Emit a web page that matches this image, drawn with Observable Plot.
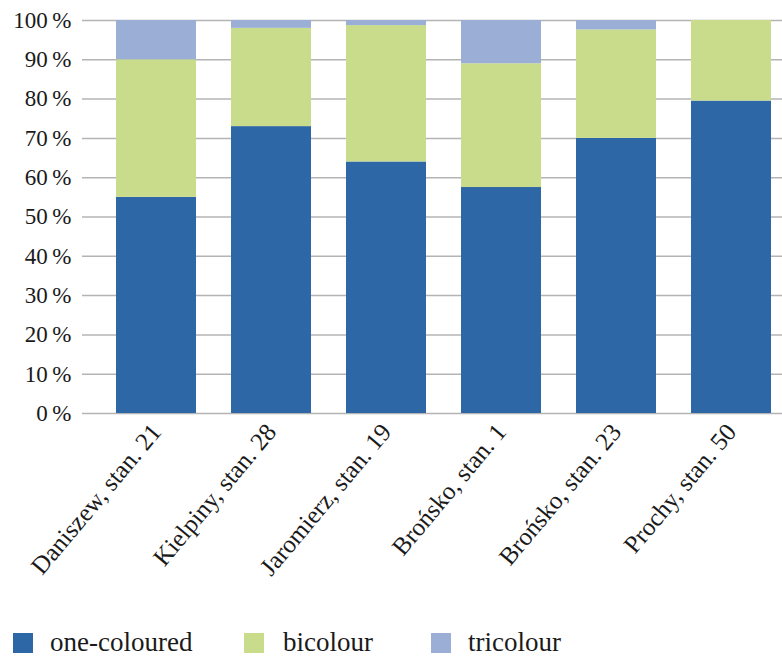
<!DOCTYPE html>
<html>
<head>
<meta charset="utf-8">
<script src="https://cdn.jsdelivr.net/npm/d3@7"></script>
<script src="https://cdn.jsdelivr.net/npm/@observablehq/plot@0.6"></script>
<style>
  html, body { margin: 0; padding: 0; background: #fff; }
  body { width: 782px; height: 658px; overflow: hidden; font-family: "Liberation Serif", "DejaVu Serif", serif; }
  #legend { position: relative; height: 43px; font-family: "Liberation Serif", "DejaVu Serif", serif; font-size: 27px; line-height: 27px; color: #1a1a1a; }
  .sw { position: absolute; top: 18px; width: 20px; height: 20px; }
  .lt { position: absolute; top: 14px; white-space: nowrap; }
</style>
</head>
<body>
<div id="chart"></div>
<div id="legend"></div>
<script>
const sites = ["Daniszew, stan. 21", "Kielpiny, stan. 28", "Jaromierz, stan. 19", "Brońsko, stan. 1", "Brońsko, stan. 23", "Prochy, stan. 50"];
const series = ["one-coloured", "bicolour", "tricolour"];
const oneColoured = [55, 73, 64, 57.5, 70, 79.5];
const bicolour   = [35, 25, 34.7, 31.5, 27.6, 20.5];
const tricolour  = [10, 2, 1.3, 11, 2.4, 0];
const colors = ["#2e67a6", "#c9dc8c", "#9aaed6"];
const yTicks = [0, 10, 20, 30, 40, 50, 60, 70, 80, 90, 100];

const valuesBySeries = [oneColoured, bicolour, tricolour];
const data = [];
series.forEach((s, si) => sites.forEach((site, i) => data.push({site, type: s, value: valuesBySeries[si][i]})));

const serif = "'Liberation Serif', 'DejaVu Serif', serif";
const chart = Plot.plot({
  width: 782,
  height: 615,
  marginTop: 20,
  marginBottom: 202,
  marginLeft: 82,
  marginRight: 0,
  style: {fontFamily: serif, fontSize: "23px", color: "#1a1a1a", background: "#fff"},
  x: {domain: sites, paddingInner: 0.3065, paddingOuter: 0.187, align: 0.76, label: null},
  y: {domain: [0, 100], label: null},
  color: {domain: series, range: colors},
  marks: [
    Plot.ruleY(yTicks, {stroke: "#b4b4b4", strokeWidth: 1.5}),
    Plot.barY(data, {x: "site", y: "value", fill: "type", order: series}),
    Plot.axisY(yTicks, {tickSize: 0, tickPadding: 11, tickFormat: d => d + "\u2009%", fontSize: 23, fontFamily: serif, label: null}),
    Plot.axisX({tickSize: 0, tickRotate: -50, tickPadding: 14, fontSize: 25, fontFamily: serif, label: null})
  ]
});
document.getElementById("chart").appendChild(chart);

const legend = document.getElementById("legend");
const swX = [13, 244, 431];
const txX = [50, 283, 468];
series.forEach((s, i) => {
  const sw = document.createElement("div");
  sw.className = "sw";
  sw.style.left = swX[i] + "px";
  sw.style.background = colors[i];
  const t = document.createElement("span");
  t.className = "lt";
  t.style.left = txX[i] + "px";
  t.textContent = s;
  legend.appendChild(sw);
  legend.appendChild(t);
});
</script>
</body>
</html>
